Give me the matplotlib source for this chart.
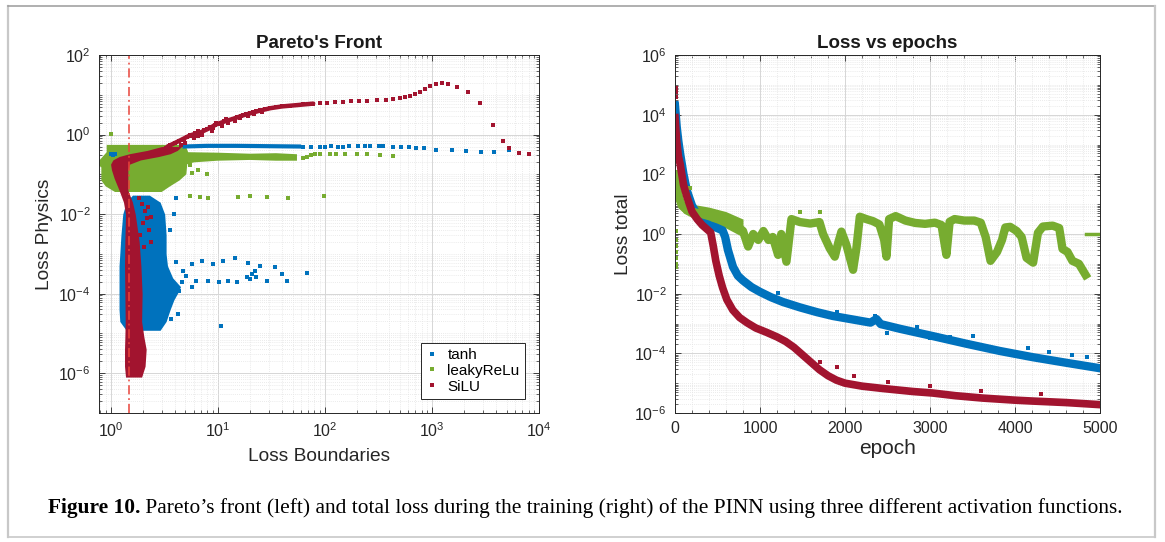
import numpy as np
import matplotlib

matplotlib.use("Agg")
import matplotlib.pyplot as plt
from matplotlib.lines import Line2D
from matplotlib.ticker import FixedLocator, LogLocator, MultipleLocator, NullFormatter

plt.rcParams["font.family"] = ["Liberation Sans", "DejaVu Sans"]
plt.rcParams["mathtext.fontset"] = "custom"
plt.rcParams["mathtext.rm"] = "Liberation Sans"
plt.rcParams["mathtext.it"] = "Liberation Sans:italic"
plt.rcParams["mathtext.bf"] = "Liberation Sans:bold"

BLUE, GREEN, RED = "#0072BD", "#77AC30", "#A2142F"

# ---------------- left panel: Pareto's front ----------------
boundary_x = 1.5

# tanh: dense cloud (envelope), band near 0.5, loose points
tanh_cloud_y = [1.2e-5, 2e-5, 4e-5, 7e-5, 1e-4, 1.5e-4, 2.5e-4, 5e-4, 1e-3, 3e-3, 1e-2, 2e-2, 3e-2]
tanh_cloud_xl = [1.4, 1.22, 1.2, 1.2, 1.2, 1.2, 1.2, 1.2, 1.22, 1.25, 1.3, 1.4, 1.6]
tanh_cloud_xr = [2.9, 3.3, 3.6, 3.9, 4.2, 4.5, 3.8, 3.4, 3.3, 3.3, 3.2, 2.9, 2.3]
tanh_band_x = [4.7, 8, 15, 30, 60]
tanh_band_y = [0.5, 0.52, 0.52, 0.51, 0.5]
tanh_pts_x = [63, 75, 90, 100, 115, 132, 147, 167, 205, 235, 265, 320, 350, 430, 520, 610,
              710, 850, 1090, 1530, 2100, 2900, 3800, 5300, 1.0, 1.05, 1.1,
              5.8, 7.1, 9.0, 11.1, 14.4, 19.1, 24.6, 34, 40, 68, 44, 29, 23, 18.6, 15, 12.6,
              10.4, 8.1, 6.3, 5.1, 4.1, 4.7, 5.7, 4.4, 10.7, 21, 22.5, 20, 4.1, 3.9, 3.6,
              4.0, 4.6, 3.7, 4.3]
tanh_pts_y = [0.5, 0.5, 0.5, 0.5, 0.51, 0.5, 0.5, 0.51, 0.52, 0.52, 0.52, 0.51, 0.51, 0.5, 0.5,
              0.49, 0.47, 0.45, 0.42, 0.4, 0.38, 0.36, 0.36, 0.4, 0.32, 0.3, 0.33,
              5.6e-4, 6.6e-4, 5.6e-4, 6.6e-4, 7.9e-4, 5.9e-4, 5e-4, 4.7e-4, 3.2e-4, 3.3e-4,
              2.1e-4, 2.1e-4, 2.7e-4, 2.7e-4, 2e-4, 2.1e-4, 2e-4, 2.1e-4, 2.1e-4, 2.8e-4,
              6.3e-4, 3.7e-4, 1.5e-4, 1.2e-4, 1.5e-5, 3.2e-4, 3.7e-4, 2.4e-4, 0.025, 0.01,
              0.004, 1.5e-4, 2e-4, 2.3e-5, 3e-5]

# leakyReLu: dense block (polygon) and loose points
relu_poly_x = [0.92, 5.0, 5.3, 10, 20, 35, 55, 55, 35, 20, 10, 6.0, 5.2, 5.1, 4.4, 3.6, 3.0,
               1.1, 0.9, 0.82, 0.82, 0.77, 0.77, 0.92]
relu_poly_y = [0.55, 0.55, 0.36, 0.35, 0.33, 0.34, 0.32, 0.22, 0.22, 0.23, 0.22, 0.2, 0.18,
               0.1, 0.07, 0.05, 0.036, 0.036, 0.05, 0.07, 0.15, 0.17, 0.21, 0.36]
relu_pts_x = [63, 68, 75, 81, 91, 111, 128, 156, 200, 250, 326, 430,
              5.5, 6.8, 8.1, 15.4, 20, 29, 45, 98, 5.8, 6.5, 7.9, 5.5, 1.0]
relu_pts_y = [0.26, 0.28, 0.3, 0.32, 0.33, 0.33, 0.33, 0.33, 0.33, 0.33, 0.31, 0.29,
              0.029, 0.027, 0.026, 0.027, 0.029, 0.027, 0.026, 0.028, 0.11, 0.13, 0.1, 0.17, 1.06]

# SiLU: dense vertical band (envelope), dense part of the front, loose points
silu_cloud_y = [8e-7, 1.5e-6, 4e-6, 8e-6, 2e-5, 1e-4, 5e-4, 2e-3, 1e-2, 2e-2, 4e-2, 8e-2,
                0.13, 0.18, 0.23, 0.28, 0.33, 0.4, 0.5]
silu_cloud_xl = [1.38, 1.35, 1.35, 1.36, 1.37, 1.36, 1.35, 1.36, 1.38, 1.32, 1.2, 1.08,
                 1.02, 1.0, 1.05, 1.2, 1.5, 2.2, 3.0]
silu_cloud_xr = [1.95, 2.1, 2.15, 2.05, 1.95, 1.97, 1.92, 1.85, 1.7, 1.6, 1.45, 1.45,
                 1.45, 1.5, 1.9, 2.8, 3.6, 4.2, 4.6]
silu_front_x = [3.4, 4.4, 5.5, 7.0, 8.4, 9.7, 12, 14, 17, 20, 24, 31, 40, 55, 78]
silu_front_y = [0.5, 0.7, 0.95, 1.15, 1.45, 1.8, 2.2, 2.5, 3.0, 3.4, 3.9, 4.6, 5.1, 5.5, 6.0]
silu_pts_x = [3.6, 4.0, 4.4, 4.8, 5.2, 5.5, 5.8, 6.2, 6.6, 7.0, 7.5, 8.0, 8.4, 9.0, 9.7, 10.5,
              11.5, 12.5, 13.9, 15, 16, 17.3, 18.5, 20, 21.5, 23, 25, 27.5, 31, 35, 40, 47,
              55, 63, 70, 78, 90, 105, 125, 147, 175, 210, 250, 305, 370, 430, 500, 560, 620,
              690, 770, 860, 960, 1100, 1250, 1400, 1700, 2180, 2800, 3700, 4600, 5250, 6500,
              8100, 4.5, 5.0, 6.0, 7.2, 8.8, 11, 12, 14.5, 16.5, 19, 22, 26, 6.5, 9.5, 3.3,
              1.9, 2.0, 2.1, 2.2, 2.3, 2.4, 1.95, 2.05, 2.25, 1.85, 2.4]
silu_pts_y = [0.55, 0.6, 0.7, 0.75, 0.85, 1.0, 0.9, 1.1, 1.2, 1.05, 1.3, 1.4, 1.55, 1.5, 2.0,
              1.8, 2.2, 2.0, 2.5, 2.8, 2.6, 3.1, 3.3, 3.5, 3.6, 3.9, 4.1, 4.4, 4.7, 4.9, 5.1,
              5.3, 5.5, 5.7, 5.9, 6.0, 6.2, 6.3, 6.5, 6.6, 6.8, 7.0, 7.1, 7.4, 7.6, 7.8, 8.3,
              8.8, 9.5, 10.5, 11.9, 14, 16.8, 18.8, 19.4, 18.8, 15.8, 11.9, 6.3, 1.7, 0.67,
              0.45, 0.35, 0.32, 0.55, 0.6, 0.8, 0.95, 1.2, 1.6, 2.4, 2.2, 3.0, 2.9, 3.2, 3.7,
              0.9, 1.7, 0.45, 0.003, 0.006, 0.012, 0.008, 0.004, 0.002, 0.018, 0.0015, 0.015,
              0.025, 0.0085]

# ---------------- right panel: loss vs epochs (log10 of loss) ----------------
tanh_epoch = [0, 20, 40, 60, 100, 140, 200, 260, 330, 400, 480, 560, 590, 623, 682, 740, 800,
              900, 1000, 1130, 1270, 1470, 1670, 1860, 2060, 2300, 2370, 2420, 2650, 3030, 3430,
              3820, 4210, 4610, 5000]
tanh_loss_exp = [4.3, 3.6, 3.1, 2.7, 2.0, 1.45, 0.95, 0.65, 0.45, 0.3, 0.22, 0.12, -0.1, -0.54,
                 -1.1, -1.4, -1.56, -1.78, -1.94, -2.12, -2.28, -2.46, -2.62, -2.75, -2.85, -2.97,
                 -2.85, -3.02, -3.18, -3.42, -3.68, -3.92, -4.13, -4.32, -4.5]
tanh_out_epoch = [12, 12, 1212, 2490, 2850, 3000, 3230, 3510, 4150, 4670, 4850, 2350, 2380, 1900, 4400]
tanh_out_exp = [4.4, 4.3, -1.98, -3.32, -3.12, -3.49, -3.45, -3.42, -3.82, -4.06, -4.12, -2.75,
                -2.8, -2.6, -3.95]

relu_epoch = [0, 20, 50, 80, 120, 200, 300, 400, 500, 600, 700, 800, 860, 920, 980, 1040, 1100,
              1150, 1213, 1250, 1311, 1370, 1470, 1590, 1700, 1742, 1820, 1880, 1920, 1958, 2017,
              2095, 2134, 2174, 2250, 2330, 2404, 2461, 2488, 2519, 2596, 2711, 2827, 2942, 3058,
              3135, 3193, 3231, 3289, 3404, 3520, 3597, 3655, 3712, 3789, 3847, 3886, 3943, 4020,
              4078, 4136, 4213, 4270, 4328, 4443, 4520, 4559, 4617, 4675, 4752, 4830]
relu_loss_exp = [2.0, 1.6, 1.2, 0.95, 0.85, 0.75, 0.68, 0.6, 0.52, 0.45, 0.35, 0.1, -0.42, 0.0,
                 -0.2, 0.1, -0.2, -0.1, -0.7, 0.0, -0.93, 0.5, 0.4, 0.35, 0.4, 0.0, -0.48, -0.76,
                 -0.3, 0.08, -0.37, -1.2, -0.48, 0.58, 0.5, 0.43, 0.32, -0.2, -0.76, 0.5, 0.6,
                 0.45, 0.37, 0.34, 0.38, 0.3, -0.7, 0.41, 0.5, 0.45, 0.45, 0.38, -0.1, -0.9,
                 -0.6, -0.2, 0.22, 0.24, 0.1, -0.1, -0.8, -0.96, 0.04, 0.25, 0.28, 0.2, -0.5,
                 -0.6, -0.9, -1.0, -1.37]
# early spread of the leakyReLu band
relu_early_epoch = [0, 50, 100, 200, 400, 600, 800]
relu_early_hi = [2.0, 1.35, 1.1, 1.0, 0.9, 0.75, 0.5]
relu_early_lo = [1.7, 0.9, 0.7, 0.55, 0.35, 0.2, -0.1]
relu_tail_epoch = [4830, 5000]
relu_tail_exp = [0.0, 0.0]
relu_out_epoch = [10, 10, 10, 10, 10, 10, 10, 176, 1470, 1705]
relu_out_exp = [0.1, -0.2, -0.4, -0.6, -0.8, -1.0, -1.1, 1.54, 0.74, 0.74]

silu_epoch = [0, 20, 40, 60, 100, 140, 200, 260, 320, 380, 420, 450, 480, 520, 560, 610, 680,
              760, 850, 950, 1080, 1200, 1300, 1400, 1500, 1600, 1700, 1800, 1900, 2000, 2200,
              2450, 2800, 3030, 3300, 3620, 4000, 4210, 4600, 5000]
silu_loss_exp = [3.9, 3.1, 2.6, 2.35, 1.65, 1.25, 0.75, 0.5, 0.3, 0.15, 0.05, -0.4, -0.9, -1.4,
                 -1.8, -2.2, -2.55, -2.8, -2.98, -3.15, -3.3, -3.45, -3.6, -3.8, -4.05, -4.3,
                 -4.55, -4.75, -4.9, -5.0, -5.1, -5.18, -5.28, -5.33, -5.42, -5.5, -5.57, -5.6,
                 -5.65, -5.72]
silu_out_epoch = [10, 10, 10, 1700, 1900, 2100, 2500, 3000, 3600, 4300]
silu_out_exp = [4.9, 4.75, 4.6, -4.3, -4.45, -4.75, -4.95, -5.1, -5.25, -5.35]

labels = ["tanh", "leakyReLu", "SiLU"]


def style_axes(ax):
    ax.set_axisbelow(True)
    ax.grid(True, which="major", color="#d6d6d6", lw=0.7)
    ax.grid(True, which="minor", color="#e4e4e4", lw=0.6, ls=(0, (1, 1.5)))
    ax.tick_params(which="both", direction="in", top=True, right=True, labelsize=11.5,
                   color="#262626", labelcolor="#262626")
    ax.tick_params(which="major", length=4, width=0.6, pad=6)
    ax.tick_params(which="minor", length=2, width=0.5)
    for s in ax.spines.values():
        s.set_color("#262626")
        s.set_linewidth(0.7)


W, H = 1165, 542
fig = plt.figure(figsize=(W / 100, H / 100), dpi=100)
ax1 = fig.add_axes([99 / W, 1 - 413 / H, 440 / W, 358 / H])
ax2 = fig.add_axes([675 / W, 1 - 413 / H, 425 / W, 358 / H])

# ---- left ----
ms = 2.6
ax1.set_xscale("log")
ax1.set_yscale("log")
ax1.fill_betweenx(tanh_cloud_y, tanh_cloud_xl, tanh_cloud_xr, color=BLUE, lw=0)
ax1.plot(tanh_band_x, tanh_band_y, color=BLUE, lw=3, solid_capstyle="butt")
ax1.plot(tanh_pts_x, tanh_pts_y, "s", color=BLUE, ms=ms, mew=0, label=labels[0])
ax1.fill(relu_poly_x, relu_poly_y, color=GREEN, lw=0)
ax1.plot(relu_pts_x, relu_pts_y, "s", color=GREEN, ms=ms, mew=0, label=labels[1])
ax1.fill_betweenx(silu_cloud_y, silu_cloud_xl, silu_cloud_xr, color=RED, lw=0)
ax1.plot(silu_front_x, silu_front_y, color=RED, lw=3.2, solid_capstyle="round")
ax1.plot(silu_pts_x, silu_pts_y, "s", color=RED, ms=ms, mew=0, label=labels[2])
ax1.axvline(boundary_x, color="#e8443a", lw=1.1, ls=(0, (6, 2.5, 1.2, 2.5)))

ax1.set_xlim(0.78, 1e4)
ax1.set_ylim(1e-7, 1e2)
ax1.xaxis.set_major_locator(FixedLocator([1e0, 1e1, 1e2, 1e3, 1e4]))
ax1.xaxis.set_minor_locator(LogLocator(base=10, subs=np.arange(2, 10), numticks=50))
ax1.yaxis.set_major_locator(FixedLocator([1e-6, 1e-4, 1e-2, 1e0, 1e2]))
ax1.yaxis.set_minor_locator(LogLocator(base=10, subs=np.arange(1, 10), numticks=50))
ax1.xaxis.set_minor_formatter(NullFormatter())
ax1.yaxis.set_minor_formatter(NullFormatter())
style_axes(ax1)
ax1.set_title("Pareto's Front", fontsize=13.5, fontweight="bold", pad=5, color="#1a1a1a")
ax1.set_xlabel("Loss Boundaries", fontsize=13.8, color="#262626", labelpad=6)
ax1.set_ylabel("Loss Physics", fontsize=13.8, color="#262626", labelpad=4)
leg = ax1.legend(loc="lower right", bbox_to_anchor=(1 - 14 / 440, 14 / 358), borderaxespad=0,
                 fontsize=11, fancybox=False, framealpha=1, edgecolor="#262626",
                 handlelength=0.8, handletextpad=0.6, borderpad=0.35, labelspacing=0.12,
                 markerscale=0.9)
leg.get_frame().set_linewidth(0.7)

# ---- right ----
ax2.set_yscale("log")
ax2.plot(tanh_epoch, 10.0 ** np.array(tanh_loss_exp), color=BLUE, lw=6, solid_joinstyle="round")
ax2.plot(tanh_out_epoch, 10.0 ** np.array(tanh_out_exp), "s", color=BLUE, ms=ms, mew=0)
ax2.fill_between(relu_early_epoch, 10.0 ** np.array(relu_early_lo), 10.0 ** np.array(relu_early_hi),
                 color=GREEN, lw=0)
ax2.plot(relu_epoch, 10.0 ** np.array(relu_loss_exp), color=GREEN, lw=6, solid_joinstyle="round")
ax2.plot(relu_tail_epoch, 10.0 ** np.array(relu_tail_exp), color=GREEN, lw=2.5)
ax2.plot(relu_out_epoch, 10.0 ** np.array(relu_out_exp), "s", color=GREEN, ms=ms, mew=0)
ax2.plot(silu_epoch, 10.0 ** np.array(silu_loss_exp), color=RED, lw=5.5, solid_joinstyle="round")
ax2.plot(silu_out_epoch, 10.0 ** np.array(silu_out_exp), "s", color=RED, ms=ms, mew=0)

ax2.set_xlim(0, 5000)
ax2.set_ylim(1e-6, 1e6)
ax2.xaxis.set_major_locator(MultipleLocator(1000))
ax2.xaxis.set_minor_locator(MultipleLocator(200))
ax2.yaxis.set_major_locator(FixedLocator([1e-6, 1e-4, 1e-2, 1e0, 1e2, 1e4, 1e6]))
ax2.yaxis.set_minor_locator(LogLocator(base=10, subs=np.arange(1, 10), numticks=50))
ax2.yaxis.set_minor_formatter(NullFormatter())
style_axes(ax2)
ax2.set_title("Loss vs epochs", fontsize=13.5, fontweight="bold", pad=5, color="#1a1a1a")
ax2.set_xlabel("epoch", fontsize=15, color="#262626", labelpad=2)
ax2.set_ylabel("Loss total", fontsize=13.8, color="#262626", labelpad=2)

# ---- frame around the figure ----
for (xs, ys, c, lw) in [([8, 8], [6, 537], "#c8c8c8", 1.6), ([8, 1155], [6, 6], "#9a9a9a", 1.1),
                        ([1155, 1155], [6, 537], "#c8c8c8", 1.6), ([8, 1155], [537, 537], "#c8c8c8", 1.2)]:
    fig.add_artist(Line2D([x / W for x in xs], [1 - y / H for y in ys], color=c, lw=lw))

# ---- caption, fitted to the width it has in the reference ----
serif = ["Liberation Serif", "DejaVu Serif"]
cap_y = 1 - 508 / H
t1 = fig.text(0, cap_y, "Figure 10.", fontweight="bold", family=serif, fontsize=13, va="center")
t2 = fig.text(0, cap_y, " Pareto\u2019s front (left) and total loss during the training (right) "
              "of the PINN using three different activation functions.",
              family=serif, fontsize=13, va="center")
r = fig.canvas.get_renderer()
total = t1.get_window_extent(r).width + t2.get_window_extent(r).width
fs = 13 * 1066 / total
t1.set_fontsize(fs)
t2.set_fontsize(fs)
w1 = t1.get_window_extent(r).width
total = w1 + t2.get_window_extent(r).width
x0 = 585 - total / 2
t1.set_x(x0 / W)
t2.set_x((x0 + w1) / W)

fig.savefig("out.png", dpi=100, facecolor="white")
